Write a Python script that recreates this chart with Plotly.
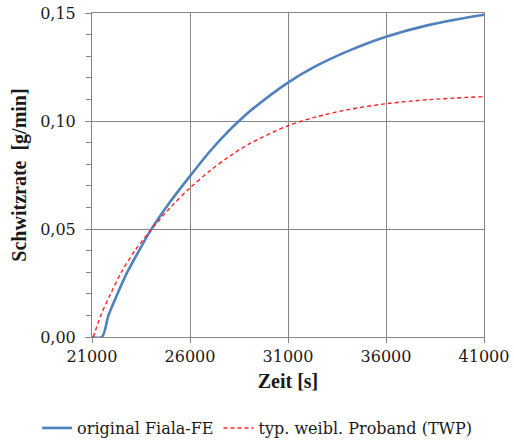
import plotly.graph_objects as go

# Blue: original Fiala-FE
t_fiala = [21000, 21500, 21840, 22300, 22800, 23400, 24000, 24980, 26000, 27020,
           28040, 28500, 29050, 31000, 32440, 34150, 36000, 38210, 41000]
v_fiala = [0.0, 0.0, 0.01, 0.02, 0.03, 0.04, 0.0495, 0.0625, 0.0745, 0.0860,
           0.0960, 0.100, 0.1045, 0.1178, 0.1255, 0.1327, 0.1390, 0.1445, 0.1492]

# Red dashed: typ. weibl. Proband (TWP)
t_twp = [21070, 21450, 21950, 22500, 23190, 24000, 25000, 26000, 27020, 28040,
         29000, 31000, 32440, 34150, 36000, 38210, 41000]
v_twp = [0.0, 0.01, 0.02, 0.03, 0.04, 0.0495, 0.060, 0.0690, 0.0770, 0.0838,
         0.0893, 0.0978, 0.1019, 0.1054, 0.1080, 0.1099, 0.1113]

x_ticks = [21000, 26000, 31000, 36000, 41000]
y_ticks = [0.0, 0.05, 0.10, 0.15]

FONT = "DejaVu Serif"
FONT_TITLE = "serif"
GRID = "#868686"

fig = go.Figure()
fig.add_trace(go.Scatter(
    x=t_fiala, y=v_fiala, mode="lines", name="original Fiala-FE",
    line=dict(color="#4F81BD", width=2.6, shape="spline", smoothing=0.9),
))
fig.add_trace(go.Scatter(
    x=t_twp, y=v_twp, mode="lines", name="typ. weibl. Proband (TWP)",
    line=dict(color="#FF2020", width=1.4, dash="4px,3px", shape="spline", smoothing=0.9),
))

fig.update_layout(
    width=514, height=442,
    margin=dict(l=92, r=30, t=13, b=105, autoexpand=False),
    paper_bgcolor="white", plot_bgcolor="white",
    separators=",.",
    font=dict(family=FONT, size=16, color="#1a1a1a"),
    showlegend=True,
    legend=dict(orientation="h", x=-0.14, y=-0.281, xanchor="left", yanchor="middle",
                font=dict(family=FONT, size=16), itemwidth=30, tracegroupgap=0,
                bgcolor="rgba(0,0,0,0)"),
)
fig.update_xaxes(
    range=[21000, 41000], tickvals=x_ticks, tickformat="d",
    tickfont=dict(family=FONT, size=16),
    showgrid=True, gridcolor=GRID, gridwidth=1,
    showline=True, linecolor=GRID, linewidth=1, mirror=True,
    ticks="outside", ticklen=5, tickcolor=GRID,
    title=dict(text="<b>Zeit [s]</b>", standoff=8, font=dict(family=FONT_TITLE, size=20)),
    zeroline=False, automargin=False,
)
fig.update_yaxes(
    range=[0, 0.15], tickvals=y_ticks, tickformat=".2f",
    tickfont=dict(family=FONT, size=16), ticklabelstandoff=6,
    showgrid=True, gridcolor=GRID, gridwidth=1,
    showline=True, linecolor=GRID, linewidth=1, mirror=True,
    ticks="outside", ticklen=6, tickcolor=GRID,
    minor=dict(dtick=0.01, ticks="outside", ticklen=5, tickcolor=GRID, showgrid=False),
    title=dict(text="<b>Schwitzrate  [g/min]</b>", standoff=8, font=dict(family=FONT_TITLE, size=20)),
    zeroline=False, automargin=False,
)

fig.write_html("out.html")
